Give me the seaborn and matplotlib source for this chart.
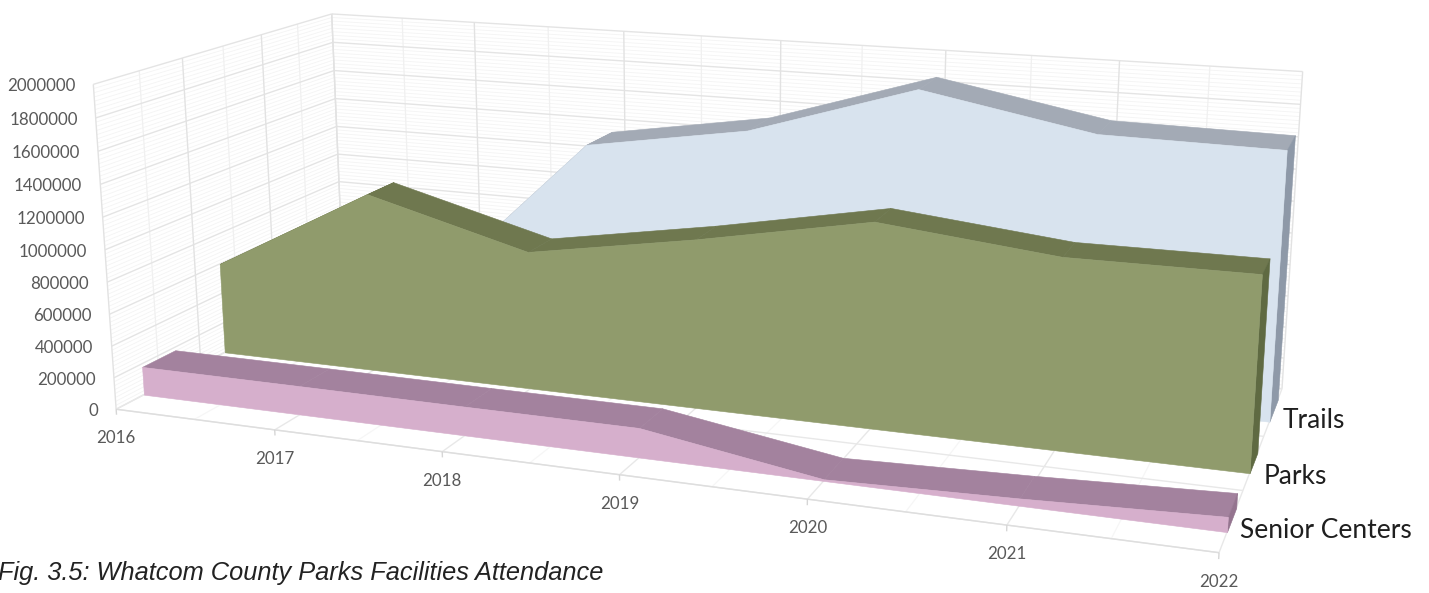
import numpy as np
import pandas as pd
import matplotlib
matplotlib.use('Agg')
import matplotlib.pyplot as plt
import seaborn as sns
from mpl_toolkits.mplot3d.art3d import Poly3DCollection, Line3DCollection

sns.set_theme(style='white')
plt.rcParams['font.family'] = ['Lato', 'DejaVu Sans']

years = [2016, 2017, 2018, 2019, 2020, 2021, 2022]
senior_centers = [180000, 180000, 178000, 178000, 10000, 42000, 85000]
parks = [600000, 1155000, 880000, 1057000, 1260000, 1150000, 1153000]
trails = [0, 350000, 1363000, 1535000, 1870000, 1670000, 1655000]
series_names = ['Trails', 'Parks', 'Senior Centers']
z_ticks = np.arange(0, 2000001, 200000)

df = pd.DataFrame({'year': years, 'Senior Centers': senior_centers, 'Parks': parks, 'Trails': trails})

# depth band of each series, 0 = front of the floor, 1 = back wall
bands = {'Senior Centers': (0.105, 0.235), 'Parks': (0.435, 0.56), 'Trails': (0.765, 0.92)}
# front face, top strip, end face
colors = {'Trails': sns.color_palette(['#D8E3EE', '#A3AAB5', '#8E99A8']),
          'Parks': sns.color_palette(['#909B6C', '#6F784F', '#5F6A42']),
          'Senior Centers': sns.color_palette(['#D6AFCC', '#A3829E', '#94748F'])}

W, H = 1429, 593
fig = plt.figure(figsize=(W / 100, H / 100), dpi=100, facecolor='white')
ax = fig.add_axes([0, 0, 1, 1], projection='3d', computed_zorder=False)
ax.set_axis_off()
ax.apply_aspect = lambda *a, **k: None

# camera calibration: box corner (x 0-1, depth 0-1, z 0-1) -> picture pixel
box = np.array([[0, 0, 0], [0, 0, 1], [0, 1, 1], [0, 1, 0], [1, 0, 0], [1, 1, 1], [1, 1, 0]], float)
pix = np.array([[116, 409], [95, 84], [330, 13], [345, 293], [1219, 553], [1303, 73], [1282, 385]], float)
weight = [3, 1, 1, 1, 3, 1, 1]  # the front floor corners are the ones read best
rows, rhs = [], []
for (a, b, c), (u, v), k in zip(box, pix, weight):
    rows.append([k * t for t in [a, b, c, 1, 0, 0, 0, 0, -u * a, -u * b, -u * c]])
    rows.append([k * t for t in [0, 0, 0, 0, a, b, c, 1, -v * a, -v * b, -v * c]])
    rhs += [k * u, k * v]
sol = np.linalg.lstsq(np.array(rows), np.array(rhs), rcond=None)[0]
cam = np.append(sol, 1).reshape(3, 4)
scale = np.array([[1 / 6, 0, 0, -2016 / 6], [0, 1, 0, 0], [0, 0, 1 / 2000000, 0], [0, 0, 0, 1]])
cam = cam @ scale


def get_proj():
    to_disp = np.array([[1, 0, 0], [0, -1, H], [0, 0, 1]], float)
    q = ax.transData.inverted().get_matrix() @ to_disp @ cam
    return np.array([q[0], q[1], [0, 1, 0, 0], q[2]])


ax.get_proj = get_proj


def to_px(x, y, z):
    p = cam @ np.array([x, y, z, 1.0])
    return p[0] / p[2], p[1] / p[2]


def lines(segments, color, lw):
    col = Line3DCollection(segments, colors=color, linewidths=lw, zorder=1)
    col.set_clip_on(False)
    ax.add_collection3d(col, autolim=False)


def face(verts, color, order):
    poly = Poly3DCollection([verts], facecolors=[color], edgecolors=[color], linewidths=0.4, zorder=order)
    poly.set_clip_on(False)
    ax.add_collection3d(poly, autolim=False)


x0, x1 = years[0], years[-1]
zmax = z_ticks[-1]

# minor grid on the walls
minor_z = [z for z in np.arange(0, zmax + 1, 25000) if z % 200000]
lines([[(x0, 1, z), (x1, 1, z)] for z in minor_z] + [[(x0, 0, z), (x0, 1, z)] for z in minor_z], '#F4F4F4', 0.6)
half_years = np.arange(x0 + 0.5, x1, 1)
mid_bands = [1 / 6, 1 / 2, 5 / 6]
lines([[(x, 1, 0), (x, 1, zmax)] for x in half_years] + [[(x0, y, 0), (x0, y, zmax)] for y in mid_bands],
      '#F0F0F0', 0.9)
lines([[(x, 0, 0), (x, 1, 0)] for x in half_years] + [[(x0, y, 0), (x1, y, 0)] for y in mid_bands],
      '#F6F6F6', 0.9)

# major grid
band_lines = [0, 1 / 3, 2 / 3, 1]
lines([[(x0, 1, z), (x1, 1, z)] for z in z_ticks] + [[(x0, 0, z), (x0, 1, z)] for z in z_ticks], '#E4E4E4', 1.0)
lines([[(x, 1, 0), (x, 1, zmax)] for x in years] + [[(x0, y, 0), (x0, y, zmax)] for y in band_lines], '#E2E2E2', 1.0)
lines([[(x, 0, 0), (x, 1, 0)] for x in years] + [[(x0, y, 0), (x1, y, 0)] for y in band_lines], '#E8E8E8', 1.0)
lines([[(x0, 0, 0), (x1, 0, 0)]], '#DEDEDE', 1.0)
lines([[(x, 0, -35000), (x, 0, 0)] for x in years], '#D6D6D6', 1.0)

# areas, back to front
order = 10
for name in series_names:
    vals = df[name].values
    y0, y1 = bands[name]
    c_front, c_top, c_end = colors[name]
    for i in range(len(years) - 1):
        face([(years[i], y0, vals[i]), (years[i + 1], y0, vals[i + 1]),
              (years[i + 1], y1, vals[i + 1]), (years[i], y1, vals[i])], c_top, order)
        order += 1
    face([(x1, y0, 0), (x1, y1, 0), (x1, y1, vals[-1]), (x1, y0, vals[-1])], c_end, order)
    order += 1
    outline = [(x0, y0, 0)] + [(x, y0, v) for x, v in zip(years, vals)] + [(x1, y0, 0)]
    face(outline, c_front, order)
    order += 1

# tick labels
gray = '#595959'
for z in z_ticks:
    u, v = to_px(x0, 0, z)
    fig.text((u - 18) / W, 1 - (v + 2) / H, str(z), ha='right', va='center', fontsize=12.2, color=gray)
for x in years:
    u, v = to_px(x, 0, 0)
    fig.text(u / W, 1 - (v + 29) / H, str(x), ha='center', va='center', fontsize=12.2, color=gray)

for name, (u, v) in zip(series_names, [(1283, 420), (1264, 476), (1240, 531)]):
    fig.text(u / W, 1 - v / H, name, ha='left', va='center', fontsize=19, color='#1F1F1F')

fig.text(-2 / W, 1 - 573 / H, 'Fig. 3.5: Whatcom County Parks Facilities Attendance',
         ha='left', va='center', fontsize=18.3, style='italic', family='Liberation Sans', color='#222222')

fig.savefig('out.png', dpi=100, facecolor='white')
